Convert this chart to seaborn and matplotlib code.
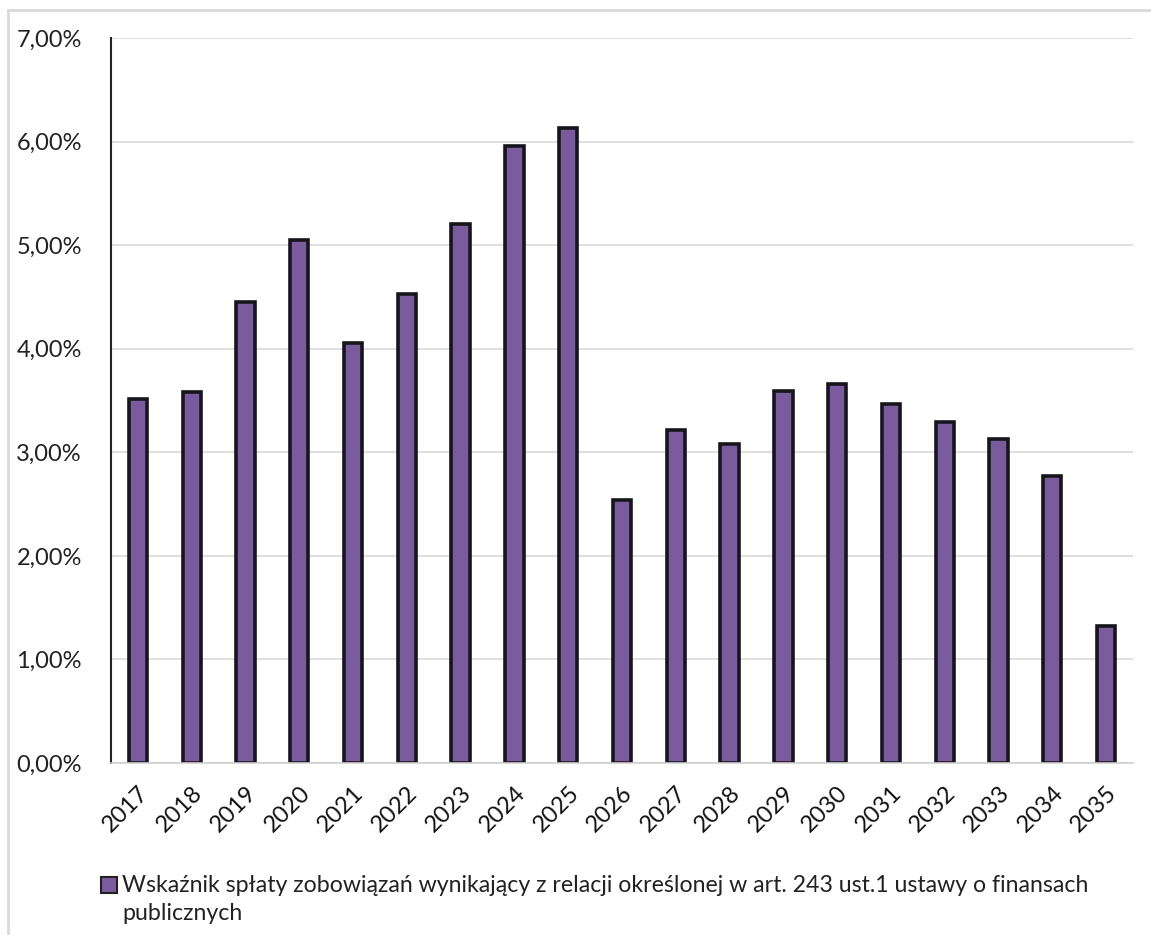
import matplotlib
matplotlib.use("Agg")
import matplotlib.pyplot as plt
import seaborn as sns
import pandas as pd
from matplotlib.lines import Line2D
from matplotlib.patches import Rectangle
from matplotlib.ticker import FuncFormatter, MultipleLocator

years = [str(y) for y in range(2017, 2036)]
values = [3.51, 3.58, 4.45, 5.05, 4.06, 4.53, 5.20, 5.96, 6.13, 2.54,
          3.22, 3.08, 3.59, 3.66, 3.47, 3.29, 3.13, 2.77, 1.32]
legend_line1 = "Wskaźnik spłaty zobowiązań wynikający z relacji określonej w art. 243 ust.1 ustawy o finansach"
legend_line2 = "publicznych"

sns.set_theme(style="white")
plt.rcParams['font.family'] = ['Lato', 'DejaVu Sans']

df = pd.DataFrame({"rok": years, "wskaznik": values})

fig = plt.figure(figsize=(11.51, 9.35), dpi=100)
ax = fig.add_axes([111/1151, 1-763/935, (1133-111)/1151, (763-38)/935])

sns.barplot(data=df, x="rok", y="wskaznik", ax=ax, color="#7a5c9e",
            width=0.34, edgecolor="#17151c", linewidth=2.6, saturation=1)

ax.set_xlim(-0.5, len(years) - 0.5)
ax.set_ylim(0, 7)
ax.yaxis.set_major_locator(MultipleLocator(1))
ax.yaxis.set_major_formatter(FuncFormatter(lambda v, p: f"{v:.2f}%".replace(".", ",")))
ax.grid(axis="y", color="#d9d9d9", linewidth=1.2)
ax.set_axisbelow(True)
ax.set_xlabel("")
ax.set_ylabel("")

for s in ["top", "right"]:
    ax.spines[s].set_visible(False)
ax.spines["left"].set_color("#222222")
ax.spines["left"].set_linewidth(1.5)
ax.spines["bottom"].set_color("#d0d0d0")
ax.spines["bottom"].set_linewidth(1.2)

ax.tick_params(axis="y", length=0, pad=21, labelsize=17, labelcolor="#222222")
ax.tick_params(axis="x", length=0, pad=14, labelsize=17, labelcolor="#111111")
for lbl in ax.get_xticklabels():
    lbl.set_rotation(45)
    lbl.set_ha("right")
    lbl.set_rotation_mode("anchor")

# legend (manual, wrapped as in reference)
fig.patches.append(Rectangle((101/1151, 1-893/935), 16/1151, 16/935,
                             transform=fig.transFigure, facecolor="#7a5c9e",
                             edgecolor="#222222", linewidth=1.5))
fig.text(122/1151, 1-885/935, legend_line1, fontsize=16.7, va="center", ha="left", color="#222222")
fig.text(122/1151, 1-913/935, legend_line2, fontsize=16.7, va="center", ha="left", color="#222222")

# outer frame lines
fig.add_artist(Line2D([8/1151, 8/1151], [0, 1-10/935], transform=fig.transFigure,
                      color="#d9d9d9", linewidth=2))
fig.add_artist(Line2D([8/1151, 1], [1-10/935, 1-10/935], transform=fig.transFigure,
                      color="#d9d9d9", linewidth=2))

fig.savefig("out.png", dpi=100)
